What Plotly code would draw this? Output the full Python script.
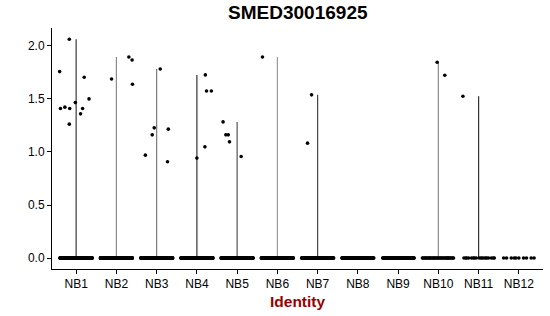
import plotly.graph_objects as go

# ---- data ----
categories = ["NB1", "NB2", "NB3", "NB4", "NB5", "NB6",
              "NB7", "NB8", "NB9", "NB10", "NB11", "NB12"]
# number of cells with zero expression per identity (estimated)
zero_counts = [300, 250, 230, 220, 200, 180, 150, 110, 75, 35, 18, 10]

# cells with non-zero expression: identity, value, horizontal jitter
nonzero_cluster = (["NB1"] * 11 + ["NB2"] * 4 + ["NB3"] * 6 + ["NB4"] * 5 +
                   ["NB5"] * 5 + ["NB6"] + ["NB7"] * 2 + ["NB10"] * 2 + ["NB11"])
nonzero_value = [1.757, 1.409, 1.422, 2.062, 1.409, 1.262, 1.465, 1.409, 1.359, 1.704, 1.500,
                 1.688, 1.895, 1.867, 1.638,
                 1.782, 1.227, 1.161, 1.215, 0.970, 0.907,
                 1.726, 1.575, 1.575, 1.048, 0.942,
                 1.283, 1.161, 1.161, 1.095, 0.957,
                 1.895,
                 1.538, 1.083,
                 1.845, 1.723,
                 1.525]
nonzero_jitter = [-0.41, -0.39, -0.28, -0.17, -0.16, -0.17, -0.02, 0.16, 0.11, 0.20, 0.32,
                  -0.12, 0.31, 0.39, 0.40,
                  0.09, -0.06, -0.11, 0.29, -0.28, 0.27,
                  0.21, 0.24, 0.36, 0.20, 0.0,
                  -0.35, -0.28, -0.22, -0.19, 0.10,
                  -0.37,
                  -0.15, -0.25,
                  -0.03, 0.16,
                  -0.39]

violin_line_colors = ["#3a3a3a", "#8a8a8a", "#7a7a7a", "#333333", "#555555", "#9a9a9a",
                      "#444444", "#888888", "#888888", "#8a8a8a", "#333333", "#555555"]

fig = go.Figure()

# thin violins: vertical spans from 0 to the max value of each identity
for i, cat in enumerate(categories):
    vals = [v for c, v in zip(nonzero_cluster, nonzero_value) if c == cat]
    if vals:
        fig.add_trace(go.Scatter(x=[i, i], y=[0, max(vals)], mode="lines",
                                 line=dict(color=violin_line_colors[i], width=1.2),
                                 hoverinfo="skip", showlegend=False))

# jittered zero points
zx, zy = [], []
phi = 0.6180339887
for i, n in enumerate(zero_counts):
    for k in range(n):
        off = ((k * phi + 0.31 * i) % 1.0 - 0.5) * 0.8
        zx.append(i + off)
        zy.append(0.0)
fig.add_trace(go.Scatter(x=zx, y=zy, mode="markers",
                         marker=dict(color="black", size=3.6, line=dict(width=0)),
                         showlegend=False, hoverinfo="skip"))

# non-zero points
idx = {c: i for i, c in enumerate(categories)}
fig.add_trace(go.Scatter(x=[idx[c] + j for c, j in zip(nonzero_cluster, nonzero_jitter)],
                         y=nonzero_value, mode="markers",
                         marker=dict(color="black", size=3.6, line=dict(width=0)),
                         showlegend=False))

font_family = "Liberation Sans, Arial, Helvetica, sans-serif"
fig.update_layout(
    width=550, height=316,
    margin=dict(l=52, r=7, t=28, b=47),
    paper_bgcolor="white", plot_bgcolor="white",
    font=dict(family=font_family, color="black", size=12),
    title=dict(text="<b>SMED30016925</b>", x=0.5415, xanchor="center",
               y=0.962, yanchor="middle", yref="container",
               font=dict(size=19, color="black", family=font_family)),
    xaxis=dict(range=[-0.6, 11.6], tickmode="array", tickvals=list(range(len(categories))),
               ticktext=categories, showline=True, linecolor="black", linewidth=1,
               ticks="outside", ticklen=4, tickcolor="black", tickwidth=1,
               showgrid=False, zeroline=False, tickfont=dict(size=12, color="black")),
    yaxis=dict(range=[-0.103, 2.168], tickmode="array", tickvals=[0, 0.5, 1.0, 1.5, 2.0],
               ticktext=["0.0", "0.5", "1.0", "1.5", "2.0"], showline=True,
               linecolor="black", linewidth=1, ticks="outside", ticklen=4,
               tickcolor="black", tickwidth=1, showgrid=False, zeroline=False,
               tickfont=dict(size=12, color="black")),
    annotations=[dict(text="<b>Identity</b>", x=0.5, xref="paper", y=-0.135, yref="paper",
                      xanchor="center", yanchor="middle", showarrow=False,
                      font=dict(size=15.5, color="#990000", family=font_family))],
)

fig.write_html("out.html")
